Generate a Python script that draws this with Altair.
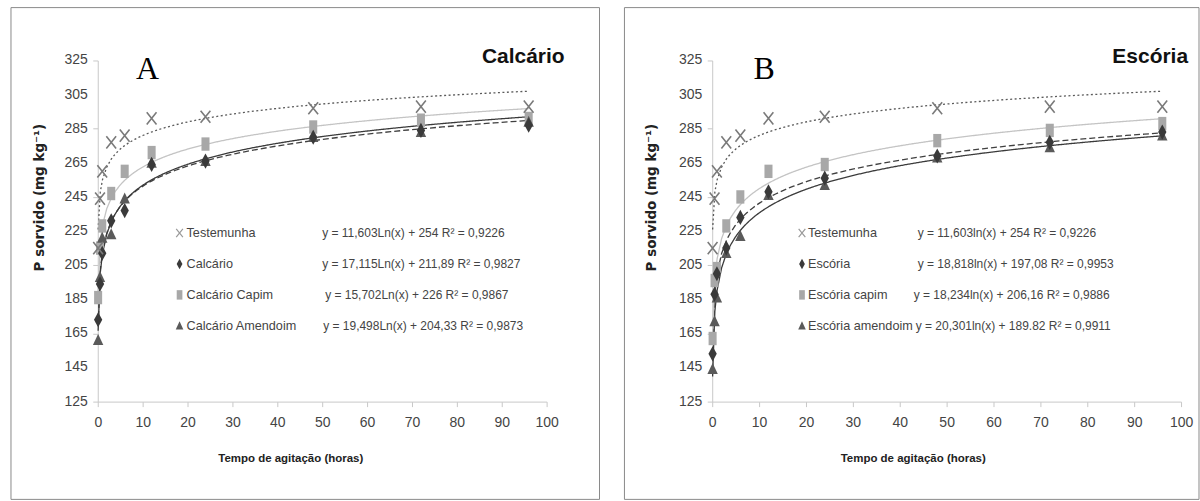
import altair as alt
import pandas as pd

# ---- data ----
times = [0.083, 0.5, 1, 3, 6, 12, 24, 48, 72, 96]

testemunha = [215, 244, 260, 277, 281, 291, 292, 297, 298, 298]
calcario = [173, 194, 212, 231, 237, 264, 266, 280, 284, 287]
calcario_capim = [186, 215, 228, 247, 260, 271, 276, 286, 290, 291]
calcario_amendoim = [161, 198, 221, 223, 244, 265, 266, 280, 283, 289]

escoria = [153, 188, 200, 215, 233, 248, 256, 269, 277, 283]
escoria_capim = [162, 196, 203, 228, 245, 260, 264, 278, 284, 288]
escoria_amendoim = [144, 172, 186, 212, 222, 246, 252, 268, 274, 281]

labels_a = ["Testemunha", "Calcário", "Calcário Capim", "Calcário Amendoim"]
eqs_a = [
    "y = 11,603Ln(x) + 254   R² = 0,9226",
    "y = 17,115Ln(x) + 211,89   R² = 0,9827",
    "y = 15,702Ln(x) + 226   R² = 0,9867",
    "y = 19,498Ln(x) + 204,33  R² = 0,9873",
]
labels_b = ["Testemunha", "Escória", "Escória capim", "Escória amendoim"]
eqs_b = [
    "y = 11,603ln(x) + 254  R² = 0,9226",
    "y = 18,818ln(x) + 197,08  R² = 0,9953",
    "y = 18,234ln(x) + 206,16 R² = 0,9886",
    "y = 20,301ln(x) + 189.82  R² = 0,9911",
]

y_ticks = [125, 145, 165, 185, 205, 225, 245, 265, 285, 305, 325]
x_ticks = [0, 10, 20, 30, 40, 50, 60, 70, 80, 90, 100]

roles = ["ctrl", "base", "capim", "amend"]
SANS = "Liberation Sans, Arial, sans-serif"
WIDE = "DejaVu Sans, Verdana, sans-serif"

X_PATH = "M-0.8,-1L0.8,1M-0.8,1L0.8,-1"
DIAMOND = "M0,-1L0.55,0L0,1L-0.55,0Z"
RECT = "M-0.6,-1L0.6,-1L0.6,1L-0.6,1Z"
TRI = "M0,-1L0.85,0.8L-0.85,0.8Z"

pt_shapes = {"base": DIAMOND, "capim": RECT, "amend": TRI}
pt_colors = {"base": "#3a3a3a", "capim": "#a8a8a8", "amend": "#5a5a5a"}
pt_sizes = {"base": 230, "capim": 180, "amend": 150}

line_colors = ["#5a5a5a", "#404040", "#c4c4c4", "#3a3a3a"]
line_dash = [[2, 2.5], [6, 3], [1, 0], [1, 0]]


def panel(series, labels, eqs, width, letter, title, title_right,
          sym_x, lab_x, eq_x, xtitle_x, ytitle_x, frame):
    rows = []
    for role, vals in zip(roles, series):
        for t, v in zip(times, vals):
            rows.append({"t": t, "v": v, "role": role})
    df = pd.DataFrame(rows)

    xs = alt.Scale(domain=[0, 100], nice=False, zero=False)
    ys = alt.Scale(domain=[125, 325], nice=False, zero=False)
    xax = alt.Axis(values=x_ticks, grid=False,
                   title="Tempo de agitação (horas)",
                   labelFont=SANS, labelFontSize=14, labelColor="#444444",
                   labelPadding=9, tickSize=5, domainColor="#c8c8c8",
                   tickColor="#c8c8c8", labelFlush=False, labelOverlap=False,
                   titleFont=SANS, titleFontSize=11.5,
                   titleFontWeight="bold", titleColor="#222222",
                   titleX=xtitle_x, titleY=51)
    yax = alt.Axis(values=y_ticks, grid=False, labels=False,
                   title="P sorvido (mg kg⁻¹)",
                   tickSize=5, domainColor="#c8c8c8", tickColor="#c8c8c8",
                   titleFont=WIDE, titleFontSize=13.5,
                   titleFontWeight="bold", titleColor="#222222",
                   titleX=ytitle_x, titleY=137, titleBaseline="middle",
                   titleAngle=270)

    base = alt.Chart(df)
    lines = base.transform_regression(
        "t", "v", method="log", groupby=["role"], extent=[0.083, 96]
    ).mark_line(strokeWidth=1.3).encode(
        x=alt.X("t:Q", scale=xs, axis=xax),
        y=alt.Y("v:Q", scale=ys, axis=yax),
        color=alt.Color("role:N", scale=alt.Scale(domain=roles, range=line_colors), legend=None),
        strokeDash=alt.StrokeDash("role:N", scale=alt.Scale(domain=roles, range=line_dash), legend=None),
        detail="role:N",
    )
    layers = [lines]

    # y tick labels placed through the y scale
    layers.append(
        alt.Chart(pd.DataFrame({"v": y_ticks})).mark_text(
            align="right", baseline="middle", font=SANS, fontSize=14,
            color="#444444",
        ).encode(x=alt.value(-10), y=alt.Y("v:Q"), text=alt.Text("v:Q"))
    )

    for role in ["capim", "amend", "base"]:
        layers.append(
            base.transform_filter(alt.datum.role == role).mark_point(
                shape=pt_shapes[role], filled=True, size=pt_sizes[role],
                color=pt_colors[role], opacity=1,
            ).encode(x="t:Q", y="v:Q")
        )
    layers.append(
        base.transform_filter(alt.datum.role == "ctrl").mark_point(
            shape=X_PATH, filled=False, size=150, color="#7a7a7a",
            strokeWidth=1.6, opacity=1,
        ).encode(x="t:Q", y="v:Q")
    )

    one = pd.DataFrame({"k": [0]})
    row_y = [173, 204, 235, 266]
    leg_shapes = [X_PATH, DIAMOND, RECT, TRI]
    leg_colors = ["#9a9a9a", "#3a3a3a", "#a8a8a8", "#5a5a5a"]
    leg_sizes = [70, 110, 90, 80]
    for i in range(4):
        layers.append(
            alt.Chart(one).mark_point(
                shape=leg_shapes[i], filled=(i != 0), size=leg_sizes[i],
                color=leg_colors[i], strokeWidth=1.2, opacity=1,
            ).encode(x=alt.value(sym_x), y=alt.value(row_y[i]))
        )
        layers.append(
            alt.Chart(pd.DataFrame({"s": [labels[i]]})).mark_text(
                align="left", baseline="middle", font=SANS, fontSize=12.7,
                color="#444444",
            ).encode(x=alt.value(lab_x), y=alt.value(row_y[i]), text="s:N")
        )
        layers.append(
            alt.Chart(pd.DataFrame({"s": [eqs[i]]})).mark_text(
                align="left", baseline="middle", font=SANS, fontSize=12,
                color="#444444",
            ).encode(x=alt.value(eq_x[i]), y=alt.value(row_y[i]), text="s:N")
        )

    layers.append(
        alt.Chart(pd.DataFrame({"s": [letter]})).mark_text(
            align="center", baseline="middle", font="Liberation Serif",
            fontSize=32, color="#000000",
        ).encode(x=alt.value(50 if letter == "A" else 52), y=alt.value(9), text="s:N")
    )
    layers.append(
        alt.Chart(pd.DataFrame({"s": [title]})).mark_text(
            align="right", baseline="middle", font=SANS, fontSize=21,
            fontWeight="bold", color="#111111",
        ).encode(x=alt.value(title_right), y=alt.value(-3), text="s:N")
    )
    fx0, fx1, fy0, fy1 = frame
    layers.append(
        alt.Chart(one).mark_rect(fillOpacity=0, stroke="#8a8a8a", strokeWidth=1).encode(
            x=alt.value(fx0), x2=alt.value(fx1), y=alt.value(fy0), y2=alt.value(fy1)
        )
    )
    return alt.layer(*layers).properties(width=width, height=342)


left = panel(
    [testemunha, calcario, calcario_capim, calcario_amendoim], labels_a, eqs_a,
    450, "A", "Calcário", 468, 82, 89, [225, 225, 228, 226], 193, -58,
    (-87, 503, -53, 440),
)
right = panel(
    [testemunha, escoria, escoria_capim, escoria_amendoim], labels_b, eqs_b,
    470, "B", "Escória", 477, 90, 96, [206, 206, 202, 204], 201, -61,
    (-88, 488, -53, 440),
)

chart = alt.hconcat(left, right, spacing=23).properties(
    padding={"left": 10, "top": 6, "right": 0, "bottom": 0}
).configure(
    background="white",
    view=alt.ViewConfig(stroke="transparent"),
    axis=alt.AxisConfig(labelOverlap=False),
)

chart.save("out.html", embed_options={"renderer": "svg", "actions": False})
